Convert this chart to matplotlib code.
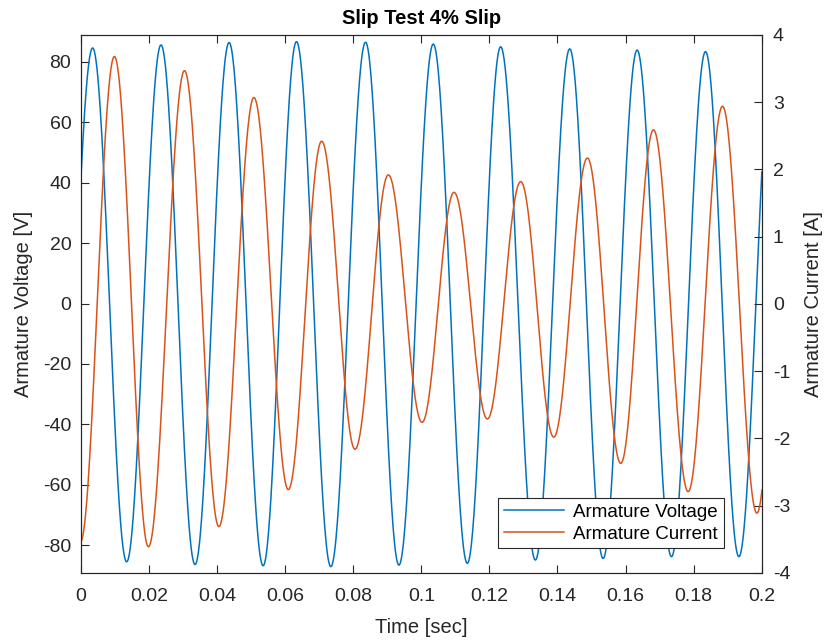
import numpy as np
import matplotlib
matplotlib.use('Agg')
import matplotlib.pyplot as plt

plt.rcParams['font.family'] = ['Liberation Sans Narrow', 'Liberation Sans', 'DejaVu Sans']
plt.rcParams['axes.unicode_minus'] = False

# 电压: 极值点 (时间, 幅值)
volt_t = [-0.0068, 0.0034, 0.0134, 0.0235, 0.0335, 0.0435, 0.0535, 0.0633, 0.0734,
          0.0836, 0.0934, 0.1035, 0.1135, 0.1233, 0.1335, 0.1436, 0.1534, 0.1634,
          0.1735, 0.1835, 0.1933, 0.2033]
volt_v = [-85.0, 84.6, -85.5, 85.6, -86.4, 86.4, -86.8, 86.7, -87.1,
          86.5, -86.6, 85.9, -86.0, 85.0, -84.9, 84.3, -84.4, 83.9,
          -83.8, 83.4, -83.8, 83.5]

# 电流: 极值点 (时间, 幅值)
curr_t = [-0.0002, 0.0098, 0.0198, 0.0304, 0.0405, 0.0508, 0.0609, 0.0707, 0.0805,
          0.0903, 0.1002, 0.1096, 0.1194, 0.1292, 0.1389, 0.1488, 0.1586, 0.1682,
          0.1784, 0.1885, 0.1986, 0.2085]
curr_v = [-3.54, 3.68, -3.61, 3.47, -3.31, 3.07, -2.76, 2.42, -2.16,
          1.92, -1.76, 1.66, -1.71, 1.82, -1.98, 2.17, -2.37, 2.59,
          -2.79, 2.94, -3.11, 3.20]

x_ticks = [0, 0.02, 0.04, 0.06, 0.08, 0.1, 0.12, 0.14, 0.16, 0.18, 0.2]
x_labels = ['0', '0.02', '0.04', '0.06', '0.08', '0.1', '0.12', '0.14', '0.16', '0.18', '0.2']
yl_ticks = [-80, -60, -40, -20, 0, 20, 40, 60, 80]
yr_ticks = [-4, -3, -2, -1, 0, 1, 2, 3, 4]


def half_cos(tk, yk, n=80):
    # 相邻极值之间用半个余弦连接
    ts, ys = [], []
    for i in range(len(tk) - 1):
        s = np.linspace(0, 1, n, endpoint=False)
        ts.append(tk[i] + s * (tk[i + 1] - tk[i]))
        ys.append(yk[i] + (yk[i + 1] - yk[i]) * (1 - np.cos(np.pi * s)) / 2)
    ts.append([tk[-1]])
    ys.append([yk[-1]])
    return np.concatenate(ts), np.concatenate(ys)


blue = '#0072BD'
orange = '#D95319'
dark = '#262626'
fs = 13.5

fig = plt.figure(figsize=(8.27, 6.42), dpi=100)
ax = fig.add_axes([0.098, 0.1075, 0.823, 0.838])
ax2 = ax.twinx()

t1, v1 = half_cos(volt_t, volt_v)
t2, v2 = half_cos(curr_t, curr_v)
l1, = ax.plot(t1, v1, color=blue, lw=1.1, label='Armature Voltage')
l2, = ax2.plot(t2, v2, color=orange, lw=1.1, label='Armature Current')

ax.set_xlim(0, 0.2)
ax.set_ylim(-89.2, 88.9)
ax2.set_ylim(-4, 4)
ax.set_xticks(x_ticks)
ax.set_xticklabels(x_labels)
ax.set_yticks(yl_ticks)
ax.set_yticklabels([str(v) for v in yl_ticks])
ax2.set_yticks(yr_ticks)
ax2.set_yticklabels([str(v) for v in yr_ticks])

ax.tick_params(axis='x', direction='in', top=True, length=6, width=0.8,
               colors=dark, labelsize=fs + 0.5, pad=11)
ax.tick_params(axis='y', direction='in', right=False, length=6, width=0.8,
               colors=dark, labelsize=fs + 0.5, pad=7)
ax2.tick_params(axis='y', direction='in', length=6, width=0.8,
                colors=dark, labelsize=fs + 0.5, pad=8)
for a in (ax, ax2):
    for sp in a.spines.values():
        sp.set_color(dark)
        sp.set_linewidth(0.8)

ax.set_xlabel('Time [sec]', fontsize=fs + 1, color=dark, labelpad=9)
ax.set_ylabel('Armature Voltage [V]', fontsize=fs + 1, color=dark, labelpad=7)
ax2.set_ylabel('Armature Current [A]', fontsize=fs + 1, color=dark, labelpad=10)
ax.set_title('Slip Test 4% Slip', fontsize=fs + 1, fontweight='bold', color='black', pad=8)

leg = ax2.legend(handles=[l1, l2], loc='lower right', bbox_to_anchor=(0.944, 0.046),
                 borderaxespad=0, fancybox=False, framealpha=1, edgecolor=dark,
                 fontsize=fs, handlelength=3.2, handletextpad=0.5,
                 borderpad=0.3, labelspacing=0.25)
leg.get_frame().set_linewidth(0.8)

fig.savefig('out.png', dpi=100)
